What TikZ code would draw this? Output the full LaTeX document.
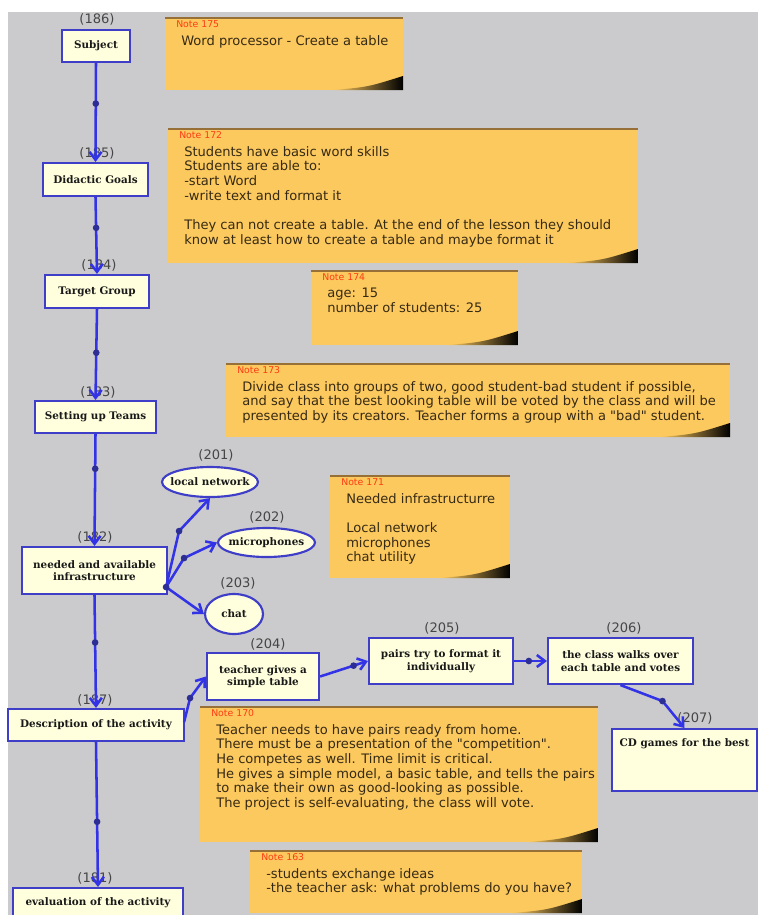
\documentclass[tikz,border=0pt]{standalone}
\usepackage{fontspec}
\setmainfont{DejaVu Sans}[Ligatures=TeXOff]
\newfontfamily\boxfont{DejaVu Serif}
\usetikzlibrary{shapes.geometric,arrows.meta,calc}
\definecolor{bggray}{RGB}{203,203,205}
\definecolor{notefill}{RGB}{252,201,94}
\definecolor{notetopc}{RGB}{150,112,55}
\definecolor{notered}{RGB}{255,60,20}
\definecolor{notetext}{RGB}{55,42,20}
\definecolor{boxfill}{RGB}{255,255,222}
\definecolor{boxblue}{RGB}{62,62,200}
\definecolor{boxtext}{RGB}{25,25,25}
\definecolor{connblue}{RGB}{50,50,230}
\definecolor{markblue}{RGB}{45,45,150}
\definecolor{lblgray}{RGB}{70,70,70}
\tikzset{
  box/.style={draw=boxblue, line width=1.6pt, fill=boxfill, text=boxtext,
    font=\boxfont\bfseries\fontsize{7.8}{9.5}\selectfont, align=center, inner sep=0pt},
  oval/.style={box, ellipse, inner xsep=-8pt},
  lbl/.style={font=\fontsize{9.8}{10}\selectfont, text=lblgray, inner sep=0pt},
  conn/.style={draw=connblue, line width=1.9pt, -{Straight Barb[length=6pt,width=9pt]}},
  mk/.style={circle, fill=markblue, inner sep=0pt, minimum size=5pt},
  notelab/.style={font=\fontsize{7}{8}\selectfont, text=notered, inner sep=0pt},
  notetxt/.style={font=\fontsize{9.8}{11}\selectfont, text=notetext, align=left, inner sep=0pt}
}
\newcommand\stickynote[7]{%
  \fill[notefill] (#2,#3) rectangle (#4,#5);
  \draw[notetopc, line width=1.5pt] (#2,#3+0.5) -- (#4,#3+0.5);
  \shade[left color=notefill, right color=black] (#4-70,#5) .. controls (#4-35,#5-3) .. (#4,#5-14) -- (#4,#5) -- cycle;
  \node[notelab, anchor=west] (#1l) at (#2+11,#3+7) {Note #6};
  \node[notetxt, anchor=north west] (#1) at (#2+16,#3+18) {#7};
}
\begin{document}
\begin{tikzpicture}[x=0.75pt, y=-0.75pt]
\useasboundingbox (0,0) rectangle (758,915);
\clip (0,0) rectangle (758,915);
\fill[white] (0,0) rectangle (758,915);
\fill[bggray] (8,12) rectangle (758,915);

% notes
\stickynote{n175}{165}{17}{403}{90}{175}{Word processor - Create a table}
\stickynote{n172}{168}{128}{638}{263}{172}{Students have basic word skills\\Students are able to:\\-start Word\\-write text and format it\\[11pt]They can not create a table. At the end of the lesson they should\\know at least how to create a table and maybe format it}
\stickynote{n174}{311}{270}{518}{345}{174}{age: 15\\number of students: 25}
\stickynote{n173}{226}{363}{730}{437}{173}{Divide class into groups of two, good student-bad student if possible,\\and say that the best looking table will be voted by the class and will be\\presented by its creators. Teacher forms a group with a "bad" student.}
\stickynote{n171}{330}{475}{510}{578}{171}{Needed infrastructurre\\[11pt]Local network\\microphones\\chat utility}
\stickynote{n170}{200}{706}{598}{842}{170}{Teacher needs to have pairs ready from home.\\There must be a presentation of the "competition".\\He competes as well. Time limit is critical.\\He gives a simple model, a basic table, and tells the pairs\\to make their own as good-looking as possible.\\The project is self-evaluating, the class will vote.}
\stickynote{n163}{250}{850}{582}{913}{163}{-students exchange ideas\\-the teacher ask: what problems do you have?}

% boxes
\node[box, minimum width=51pt, minimum height=24pt] (subj) at (96,46) {Subject};
\node[box, minimum width=78.75pt, minimum height=24.75pt] (goals) at (95.5,179.5) {Didactic Goals};
\node[box, minimum width=78pt, minimum height=24.75pt] (target) at (97,291.5) {Target Group};
\node[box, minimum width=90.75pt, minimum height=24pt] (teams) at (95.5,417) {Setting up Teams};
\node[box, minimum width=108.75pt, minimum height=35.25pt] (infra) at (94.5,570.5) {needed and available\\infrastructure};
\node[box, minimum width=132pt, minimum height=24pt] (desc) at (96,725) {Description of the activity};
\node[box, minimum width=127.5pt, minimum height=22.5pt] (eval) at (98,903) {evaluation of the activity};
\node[box, minimum width=84pt, minimum height=35.25pt] (teach) at (263,676.5) {teacher gives a\\simple table};
\node[box, minimum width=108pt, minimum height=34.5pt] (pairs) at (441,661) {pairs try to format it\\individually};
\node[box, minimum width=108.75pt, minimum height=34.5pt] (walks) at (620.5,661) {the class walks over\\each table and votes};
\node[box, anchor=north, minimum width=108.75pt, text height=8pt, text depth=28pt, inner ysep=5.25pt] (cd) at (684.5,728) {CD games for the best};
\node[oval, minimum width=72pt, minimum height=22.5pt] (localnet) at (210,482) {local network};
\node[oval, minimum width=72.75pt, minimum height=21.75pt] (micro) at (266.5,542.5) {microphones};
\node[oval, minimum width=43.5pt, minimum height=30pt] (chat) at (234,614) {chat};

% labels
\node[lbl] (l186) at (97,19) {(186)};
\node[lbl] (l185) at (97,153) {(185)};
\node[lbl] (l184) at (99,265) {(184)};
\node[lbl] (l183) at (98,392) {(183)};
\node[lbl] (l182) at (95,537) {(182)};
\node[lbl] (l187) at (95,700) {(187)};
\node[lbl] (l181) at (95,878) {(181)};
\node[lbl] (l201) at (216,455) {(201)};
\node[lbl] (l202) at (267,517) {(202)};
\node[lbl] (l203) at (238,583) {(203)};
\node[lbl] (l204) at (268,644) {(204)};
\node[lbl] (l205) at (442,628) {(205)};
\node[lbl] (l206) at (624,628) {(206)};
\node[lbl] (l207) at (695,718) {(207)};

% connectors
\draw[conn] (subj.south) -- node[mk,pos=0.41] (k1) {} (goals.north);
\draw[conn] (goals.south) -- node[mk,pos=0.4] (k2) {} (target.north);
\draw[conn] (target.south) -- node[mk,pos=0.48] (k3) {} (teams.north);
\draw[conn] (teams.south) -- node[mk,pos=0.31] (k4) {} (infra.north);
\draw[conn] (infra.south) -- node[mk,pos=0.42] (k5) {} (desc.north);
\draw[conn] (desc.south) -- node[mk,pos=0.55] (k6) {} (eval.north);

\coordinate (ist) at ($(infra.south east)+(-2,-8)$);
\draw[conn] (ist) -- ++(13,-56) node[mk] (k7) {} -- (localnet.south);
\draw[conn] (ist) -- ++(18,-29) node[mk] (k8) {} -- (micro.west);
\draw[conn] (ist) node[mk] (k9) {} -- (chat.west);

\draw[conn] ($(desc.east)+(-1,-3)$) -- ++(6,-24) node[mk] (k10) {} -- (teach.west);
\draw[conn] (teach.east) -- node[mk,pos=0.7] (k11) {} (pairs.west);
\draw[conn] (pairs.east) -- node[mk,pos=0.45] (k12) {} (walks.west);
\draw[conn] (walks.south) -- ++(42,16) node[mk] (k13) {} -- (cd.north);
\end{tikzpicture}
\end{document}
